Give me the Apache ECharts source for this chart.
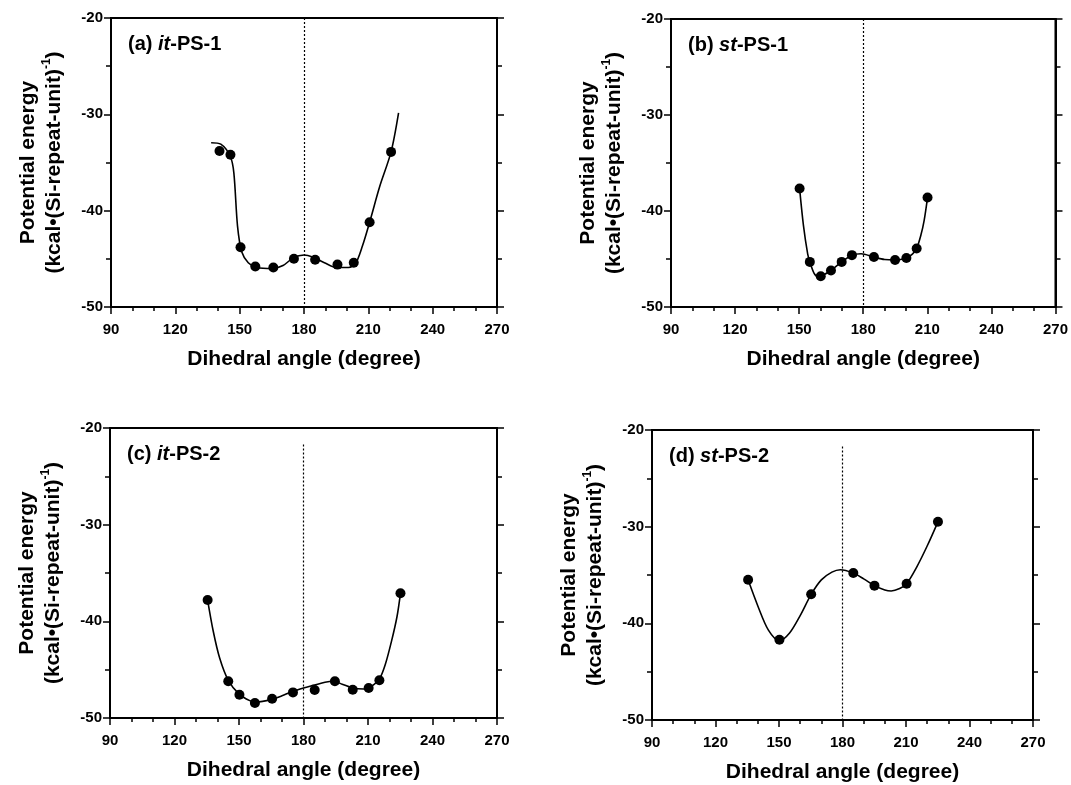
<!DOCTYPE html>
<html>
<head>
<meta charset="utf-8">
<script src="https://cdn.jsdelivr.net/npm/echarts@6/dist/echarts.min.js"></script>
<style>
  html, body { margin: 0; padding: 0; background: #fff; }
  #main { width: 1071px; height: 785px; }
</style>
</head>
<body>
<div id="main"></div>
<script>
// tick values
const xTicks = [90, 120, 150, 180, 210, 240, 270]
const yTicks = [-50, -40, -30, -20]

// (a) it-PS-1
const angleA = [140.6, 145.7, 150.4, 157.3, 165.7, 175.3, 185.2, 195.6, 203.2, 210.6, 220.6]
const energyA = [-33.8, -34.2, -43.8, -45.8, -45.9, -45.0, -45.1, -45.6, -45.4, -41.2, -33.9]
const fitAngleA = [136.7, 141.2, 145.7, 147.3, 149, 151, 154, 158, 165.4, 170.2, 175, 180, 184, 189.5, 195.2, 200.8, 204, 207.2, 210.6, 215.3, 220.6, 224.1]
const fitEnergyA = [-32.95, -33.1, -34.4, -36.1, -41.6, -44.3, -45.4, -45.9, -46.0, -45.7, -44.9, -44.6, -44.8, -45.4, -45.9, -45.9, -45.5, -43.7, -41.2, -37.5, -33.9, -29.85]

// (b) st-PS-1
const angleB = [150.2, 155.0, 160.1, 164.9, 169.9, 174.7, 185.0, 194.9, 200.2, 205.0, 210.1]
const energyB = [-37.65, -45.3, -46.8, -46.2, -45.3, -44.6, -44.8, -45.1, -44.9, -43.9, -38.6]
const fitAngleB = [150.2, 152, 154, 155, 157, 159, 161, 164.9, 169.9, 174.7, 179, 185, 190, 194.9, 200.2, 203, 205, 207, 208.5, 210.1]
const fitEnergyB = [-37.65, -41.5, -44.5, -45.3, -46.5, -46.85, -46.7, -46.2, -45.3, -44.6, -44.45, -44.8, -45.05, -45.1, -44.9, -44.5, -43.9, -42.5, -41, -38.6]

// (c) it-PS-2
const angleC = [135.4, 145.0, 150.2, 157.4, 165.4, 175.1, 185.2, 194.6, 202.9, 210.3, 215.3, 225.1]
const energyC = [-37.8, -46.2, -47.6, -48.45, -48.0, -47.35, -47.1, -46.2, -47.07, -46.9, -46.1, -37.1]
const fitAngleC = [135.4, 138, 141, 145, 150, 155, 158, 165, 170, 175, 180, 185, 190, 194, 198, 203, 208, 210.3, 213, 215.3, 218, 221, 223.5, 225.1]
const fitEnergyC = [-37.8, -41, -43.8, -46.1, -47.5, -48.2, -48.35, -48.1, -47.7, -47.25, -46.9, -46.6, -46.3, -46.2, -46.5, -46.9, -47.0, -46.9, -46.5, -46.0, -44.5, -42, -39.5, -37.1]

// (d) st-PS-2
const angleD = [135.4, 150.2, 165.2, 185.1, 195.1, 210.3, 225.1]
const energyD = [-35.5, -41.7, -37.0, -34.8, -36.1, -35.9, -29.5]
const fitAngleD = [135.4, 140, 145, 150.2, 155, 160, 165.2, 170, 175, 179, 185.1, 190, 195.1, 200, 203, 207, 210.3, 215, 220, 225.1]
const fitEnergyD = [-35.5, -38.2, -40.7, -41.8, -41.0, -39.2, -37.0, -35.5, -34.7, -34.45, -34.8, -35.4, -36.1, -36.55, -36.65, -36.4, -35.9, -34.2, -32, -29.5]

// dotted reference line at 180 deg: [angle, top energy]
const refA = [180, -20]
const refB = [180, -20]
const refC = [180, -21.7]
const refD = [180, -21.7]

const FONT = '"Liberation Sans", Arial, Helvetica, sans-serif'

const panels = [
  { label: '(a) ', tag: 'it', tail: '-PS-1', angle: angleA, energy: energyA, fitAngle: fitAngleA, fitEnergy: fitEnergyA, ref: refA,
    grid: { left: 111, top: 18, width: 386, height: 289 } },
  { label: '(b) ', tag: 'st', tail: '-PS-1', angle: angleB, energy: energyB, fitAngle: fitAngleB, fitEnergy: fitEnergyB, ref: refB,
    grid: { left: 671, top: 19, width: 386, height: 288 } },
  { label: '(c) ', tag: 'it', tail: '-PS-2', angle: angleC, energy: energyC, fitAngle: fitAngleC, fitEnergy: fitEnergyC, ref: refC,
    grid: { left: 110, top: 428, width: 387, height: 290 } },
  { label: '(d) ', tag: 'st', tail: '-PS-2', angle: angleD, energy: energyD, fitAngle: fitAngleD, fitEnergy: fitEnergyD, ref: refD,
    grid: { left: 652, top: 430, width: 381, height: 290 } }
]

const zip = (xs, ys) => xs.map((x, i) => [x, ys[i]])

const black = { color: '#000', width: 2 }
const tickStyle = { color: '#000', width: 1.5 }

const grid = []
const xAxis = []
const yAxis = []
const series = []
const graphic = []

panels.forEach((p, i) => {
  grid.push(Object.assign({ show: true, borderColor: '#000', borderWidth: 2, backgroundColor: '#fff' }, p.grid))

  xAxis.push({
    type: 'value',
    gridIndex: i,
    min: xTicks[0],
    max: xTicks[xTicks.length - 1],
    interval: xTicks[1] - xTicks[0],
    name: 'Dihedral angle (degree)',
    nameLocation: 'middle',
    nameGap: 42,
    nameTextStyle: { color: '#000', fontSize: 21, fontWeight: 'bold', fontFamily: FONT },
    axisLine: { lineStyle: black },
    axisTick: { length: 7, lineStyle: tickStyle },
    minorTick: { show: true, splitNumber: 3, length: 4, lineStyle: tickStyle },
    splitLine: { show: false },
    axisLabel: { color: '#000', fontSize: 15, fontWeight: 'bold', fontFamily: FONT, margin: 15 }
  })

  const yBase = {
    type: 'value',
    gridIndex: i,
    min: yTicks[0],
    max: yTicks[yTicks.length - 1],
    interval: yTicks[1] - yTicks[0],
    axisLine: { show: true, lineStyle: black },
    axisTick: { show: true, length: 7, lineStyle: tickStyle },
    minorTick: { show: true, splitNumber: 2, length: 5, lineStyle: tickStyle },
    splitLine: { show: false }
  }

  yAxis.push(Object.assign({}, yBase, {
    position: 'left',
    name: '{t|Potential energy}\n{t|(kcal•(Si-repeat-unit)}{s|-1}{t|)}',
    nameLocation: 'middle',
    nameRotate: 90,
    nameGap: 44,
    nameTextStyle: {
      rich: {
        t: { color: '#000', fontSize: 21, fontWeight: 'bold', fontFamily: FONT, lineHeight: 26 },
        s: { color: '#000', fontSize: 12, fontWeight: 'bold', fontFamily: FONT, lineHeight: 12, verticalAlign: 'top' }
      }
    },
    axisLabel: { color: '#000', fontSize: 15, fontWeight: 'bold', fontFamily: FONT, margin: 8 }
  }))
  yAxis.push(Object.assign({}, yBase, {
    position: 'right',
    axisLabel: { show: false }
  }))

  series.push({
    type: 'line',
    xAxisIndex: i,
    yAxisIndex: i * 2,
    data: zip(p.fitAngle, p.fitEnergy),
    smooth: 0.3,
    showSymbol: false,
    silent: true,
    lineStyle: { color: '#000', width: 1.6 },
    markLine: {
      silent: true,
      symbol: 'none',
      label: { show: false },
      lineStyle: { color: '#000', width: 1.2, type: [2, 2] },
      data: [[{ coord: p.ref }, { coord: [p.ref[0], yTicks[0]] }]]
    }
  })
  series.push({
    type: 'scatter',
    xAxisIndex: i,
    yAxisIndex: i * 2,
    data: zip(p.angle, p.energy),
    symbol: 'circle',
    symbolSize: 10,
    itemStyle: { color: '#000', opacity: 1 },
    z: 5
  })

  graphic.push({
    type: 'text',
    left: p.grid.left + 17,
    top: p.grid.top + 16,
    style: {
      text: '{n|' + p.label + '}{i|' + p.tag + '}{n|' + p.tail + '}',
      rich: {
        n: { fill: '#000', fontSize: 20, fontWeight: 'bold', fontFamily: FONT },
        i: { fill: '#000', fontSize: 20, fontWeight: 'bold', fontStyle: 'italic', fontFamily: FONT }
      }
    },
    z: 10
  })
})

const myChart = echarts.init(document.getElementById('main'))
myChart.setOption({
  animation: false,
  backgroundColor: '#fff',
  grid,
  xAxis,
  yAxis,
  series,
  graphic
})
</script>
</body>
</html>
